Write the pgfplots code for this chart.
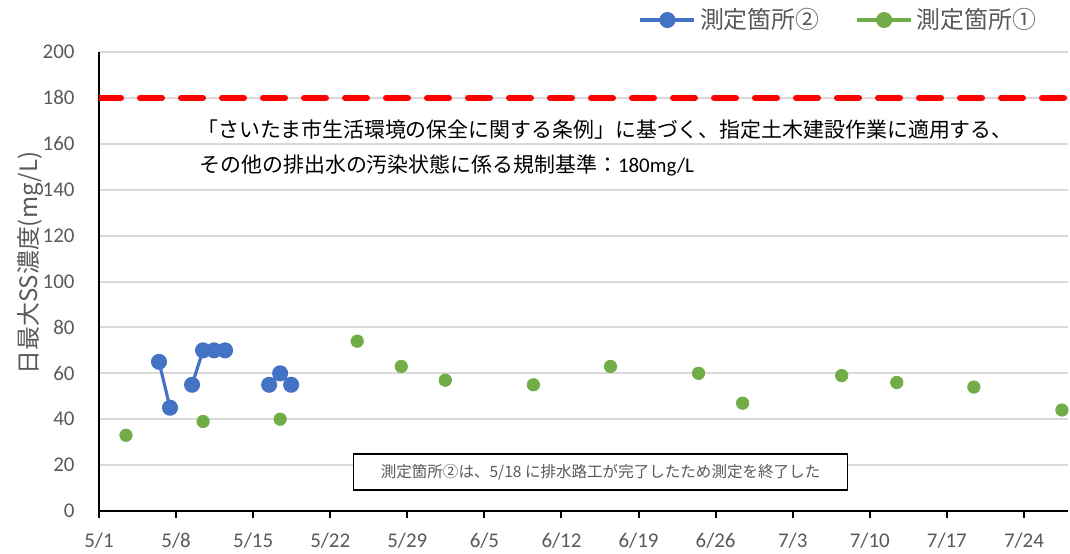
\documentclass[border=0pt]{standalone}
\usepackage{pgfplots}
\pgfplotsset{compat=1.18}
\usepackage{fontspec}
\setmainfont{Carlito}
\newfontfamily\cjk{Noto Sans CJK JP}
\usetikzlibrary{calc}

\definecolor{sblue}{HTML}{4472C4}
\definecolor{sgreen}{HTML}{70AD47}
\definecolor{tgray}{HTML}{595959}
\definecolor{ggray}{HTML}{D9D9D9}

\begin{document}
\begin{tikzpicture}
\begin{axis}[
    scale only axis,
    width=484.5bp, height=229.5bp,
    xmin=0, xmax=88, ymin=0, ymax=200,
    axis x line=bottom, axis y line=left,
    axis line style={-, black, line width=1bp},
    xtick={0,7,...,84},
    xticklabels={5/1,5/8,5/15,5/22,5/29,6/5,6/12,6/19,6/26,7/3,7/10,7/17,7/24},
    ytick={0,20,...,200},
    xtick align=outside,
    x tick style={black, line width=1bp},
    y tick style={draw=none},
    major tick length=3.5bp,
    ymajorgrids,
    grid style={ggray, line width=1bp},
    tick label style={text=tgray, font=\fontsize{10.5}{12}\selectfont},
    /pgf/number format/assume math mode=true,
    yticklabel style={xshift=-7bp},
    xticklabel style={yshift=-4bp},
    ylabel={\cjk 日最大SS濃度(mg/L)},
    every axis y label/.style={at={(axis description cs:-0.071,0.54)}, rotate=90, anchor=center, text=tgray, font=\fontsize{12}{14}\selectfont},
    unbounded coords=jump,
    legend style={at={(axis description cs:0.978,1)}, anchor=south east, yshift=6bp, draw=none, fill=none,
        font=\fontsize{12}{14}\selectfont\cjk, text=tgray,
        /tikz/every even column/.append style={column sep=16bp}},
    legend columns=2,
    legend image code/.code={\draw[mark repeat=2,mark phase=2,#1] plot coordinates {(0bp,0bp)(13.5bp,0bp)(27bp,0bp)};},
]
% limit line
\addplot[forget plot, red, line width=3bp, line cap=round, dash pattern=on 11bp off 9.5bp] coordinates {(0,180) (88,180)};

% measuring point 2
\addplot[sblue, line width=1.6bp, mark=*, mark size=3.2bp, mark options={fill=sblue, draw=none}] table {
x y
5.45 65
6.45 45
7.45 nan
8.45 55
9.45 70
10.45 70
11.45 70
12.45 nan
15.45 55
16.45 60
17.45 55
};
\addlegendentry{測定箇所②}

\addlegendimage{sgreen, line width=1.6bp, mark=*, mark size=3.2bp, mark options={fill=sgreen, draw=none}}
\addlegendentry{測定箇所①}

% measuring point 1
\addplot[forget plot, only marks, mark=*, mark size=3.1bp, sgreen, mark options={fill=sgreen, draw=none}] table {
x y
2.45 33
9.45 39
16.45 40
23.45 74
27.45 63
31.45 57
39.45 55
46.45 63
54.45 60
58.45 47
67.45 59
72.45 56
79.45 54
87.45 44
};

\node[anchor=west, inner sep=0pt, font=\fontsize{10.5}{12}\selectfont\cjk] at (axis cs:8.9,166)
    {「さいたま市生活環境の保全に関する条例」に基づく、指定土木建設作業に適用する、};
\node[anchor=west, inner sep=0pt, font=\fontsize{10.5}{12}\selectfont] at (axis cs:9.1,150.4)
    {{\cjk その他の排出水の汚染状態に係る規制基準：}180mg/L};
\node[draw=black, line width=0.6bp, fill=white, minimum width=247bp, minimum height=18bp, inner sep=0pt,
      text=tgray, font=\fontsize{7.8}{9}\selectfont\cjk] at (axis cs:45.55,17)
    {測定箇所②は、5/18 に排水路工が完了したため測定を終了した};
\end{axis}
\pgfresetboundingbox
\useasboundingbox ($(current axis.south west)+(-49.5bp,-21.5bp)$) rectangle ($(current axis.north east)+(1bp,26bp)$);
\end{tikzpicture}
\end{document}
